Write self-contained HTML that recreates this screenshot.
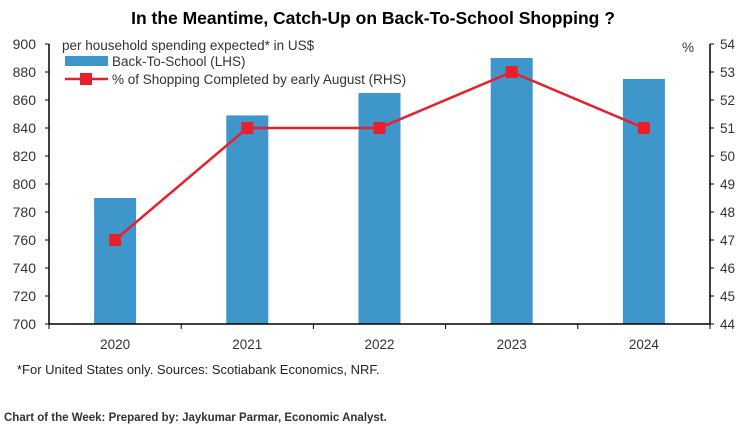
<!DOCTYPE html>
<html><head><meta charset="utf-8"><style>
html,body{margin:0;padding:0;background:#fff;width:746px;height:426px;overflow:hidden;font-family:"Liberation Sans",sans-serif;}
</style></head><body>
<svg width="746" height="426" xmlns="http://www.w3.org/2000/svg" font-family="Liberation Sans, sans-serif">
<text x="373" y="24" text-anchor="middle" font-size="17.5" font-weight="bold" fill="#000">In the Meantime, Catch-Up on Back-To-School Shopping ?</text>
<g id="plot"></g>
<text x="17" y="374" font-size="13" fill="#222">*For United States only. Sources: Scotiabank Economics, NRF.</text>
<text x="4" y="421" font-size="11.5" font-weight="bold" fill="#333">Chart of the Week: Prepared by: Jaykumar Parmar, Economic Analyst.</text>
</svg>
<script>
const categories=["2020","2021","2022","2023","2024"];
const spending=[790,849,865,890,875];
const pctCompleted=[47,51,51,53,51];
const leftTicks=[700,720,740,760,780,800,820,840,860,880,900];
const rightTicks=[44,45,46,47,48,49,50,51,52,53,54];

const NS="http://www.w3.org/2000/svg";
const g=document.getElementById('plot');
const X0=49,X1=710,Y0=324,Y1=44;
const yL=v=>Y0-(v-700)/(900-700)*(Y0-Y1);
const yR=v=>Y0-(v-44)/(54-44)*(Y0-Y1);
const bw=(X1-X0)/categories.length;
const xC=i=>X0+bw*(i+0.5);
function el(t,a){const e=document.createElementNS(NS,t);for(const k in a)e.setAttribute(k,a[k]);g.appendChild(e);return e;}
function txt(x,y,s,anchor,size,fill){const e=el('text',{x:x,y:y,'text-anchor':anchor,'font-size':size,fill:fill||'#333'});e.textContent=s;return e;}

spending.forEach((v,i)=>{
  const r=el('rect',{x:xC(i)-21,y:yL(v),width:42,height:Y0-yL(v),fill:'#3e96cb'});
  
  
});
const ax=el('path',{d:`M${X0} ${Y1}V${Y0}H${X1}V${Y1}`,stroke:'#000','stroke-width':1.5,fill:'none'});


leftTicks.forEach(v=>{
  el('line',{x1:X0-4,x2:X0,y1:yL(v),y2:yL(v),stroke:'#000'});
  const t=txt(X0-13,yL(v)+5,String(v),'end',14);
  
  
});
rightTicks.forEach(v=>{
  el('line',{x1:X1,x2:X1+4,y1:yR(v),y2:yR(v),stroke:'#000'});
  const t=txt(X1+10,yR(v)+5,String(v),'start',13.5);
  
  
});
for(let i=0;i<=categories.length;i++){el('line',{x1:X0+bw*i,x2:X0+bw*i,y1:Y0,y2:Y0+5,stroke:'#000'});}
categories.forEach((c,i)=>{
  const t=txt(xC(i),349,c,'middle',13.5);
  
  
});
const pts=pctCompleted.map((v,i)=>xC(i)+','+yR(v)).join(' ');
const pl=el('polyline',{points:pts,fill:'none',stroke:'#e8202e','stroke-width':2.5});


pctCompleted.forEach((v,i)=>{
  const m=el('rect',{x:xC(i)-6,y:yR(v)-6,width:12,height:12,fill:'#e8202e'});
  
  
});
let t=txt(62,50,'per household spending expected* in US$','start',13.5);

t=txt(682,52,'%','start',13.5);

const lb=el('rect',{x:65,y:56,width:43,height:10,fill:'#3e96cb'});

t=txt(112,66,'Back-To-School (LHS)','start',13.5);

const ll=el('line',{x1:65,x2:108,y1:79,y2:79,stroke:'#e8202e','stroke-width':2.5});

el('rect',{x:80,y:73,width:12,height:12,fill:'#e8202e'});
t=txt(112,84,'% of Shopping Completed by early August (RHS)','start',13.5);

</script>
</body></html>
